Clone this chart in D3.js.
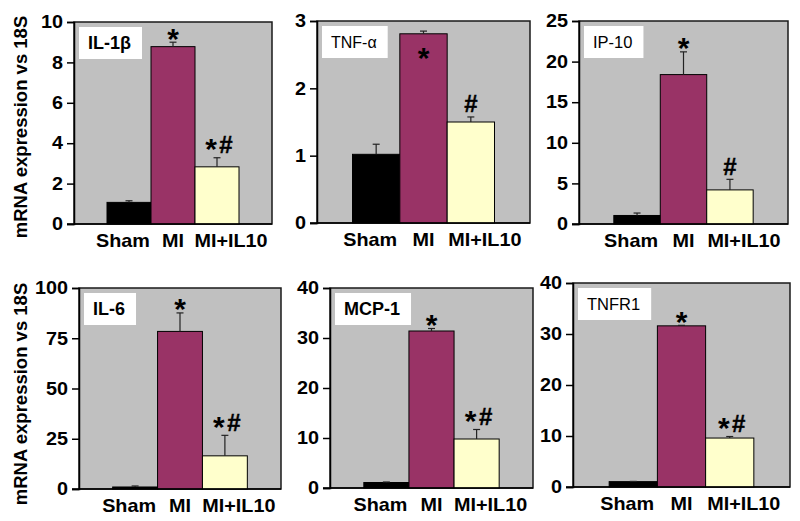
<!DOCTYPE html>
<html>
<head>
<meta charset="utf-8">
<script src="https://cdn.jsdelivr.net/npm/d3@7/dist/d3.min.js"></script>
<style>
  html, body { margin: 0; padding: 0; background: #ffffff; }
  svg { display: block; font-family: "Liberation Sans", Arial, sans-serif; }
</style>
</head>
<body>
<svg id="chart" width="800" height="521"></svg>
<script>
// ---------- data ----------
const groups = ["Sham", "MI", "MI+IL10"];
const genes = ["IL-1β", "TNF-α", "IP-10", "IL-6", "MCP-1", "TNFR1"];

const il1bMean  = [1.07, 8.78, 2.83];
const il1bSem   = [0.08, 0.22, 0.45];
const tnfMean   = [1.02, 2.81, 1.50];
const tnfSem    = [0.15, 0.04, 0.075];
const ip10Mean  = [1.05, 18.4, 4.2];
const ip10Sem   = [0.3, 2.8, 1.3];
const il6Mean   = [1.0, 78.4, 16.5];
const il6Sem    = [0.5, 9.2, 10.2];
const mcp1Mean  = [1.1, 31.4, 9.8];
const mcp1Sem   = [0.1, 0.5, 1.9];
const tnfr1Mean = [1.05, 31.6, 9.6];
const tnfr1Sem  = [0.05, 0.1, 0.3];

const il1bSig  = ["", "*", "*#"];
const tnfSig   = ["", "*", "#"];
const ip10Sig  = ["", "*", "#"];
const il6Sig   = ["", "*", "*#"];
const mcp1Sig  = ["", "*", "*#"];
const tnfr1Sig = ["", "*", "*#"];

const yMaxes = [10, 3, 25, 100, 40, 40];
const yTicks = [
  [0, 2, 4, 6, 8, 10],
  [0, 1, 2, 3],
  [0, 5, 10, 15, 20, 25],
  [0, 25, 50, 75, 100],
  [0, 10, 20, 30, 40],
  [0, 10, 20, 30, 40]
];
const yLabel = "mRNA expression vs 18S";

// ---------- layout / style ----------
const frames = [
  { x0: 74,  x1: 272, y0: 22,  y1: 224 },
  { x0: 317, x1: 530, y0: 21,  y1: 223 },
  { x0: 579, x1: 788, y0: 21,  y1: 224 },
  { x0: 79,  x1: 281, y0: 288, y1: 489 },
  { x0: 330, x1: 533, y0: 288, y1: 488 },
  { x0: 573, x1: 790, y0: 283, y1: 487 }
];
const labelBold = [true, false, false, true, true, false];
const labelSize = [18, 16, 16.5, 18, 18, 16.5];
const insideStar = [false, true, false, false, false, false];
const barColors = ["#000000", "#993366", "#ffffcc"];
const xLabelShift = [-6, 0, 14];
const STRETCH = 1.1;

const means = [il1bMean, tnfMean, ip10Mean, il6Mean, mcp1Mean, tnfr1Mean];
const sems  = [il1bSem, tnfSem, ip10Sem, il6Sem, mcp1Sem, tnfr1Sem];
const sigs  = [il1bSig, tnfSig, ip10Sig, il6Sig, mcp1Sig, tnfr1Sig];

const svg = d3.select("#chart");

function star(g, x, cy) {
  g.append("text").attr("x", x).attr("y", cy + 17.4)
    .attr("text-anchor", "middle").attr("font-size", 30).attr("font-weight", "bold")
    .attr("fill", "#000").text("*");
}
function hash(g, x, cy) {
  g.append("text").attr("x", x).attr("y", cy + 8.5)
    .attr("text-anchor", "middle").attr("font-size", 24).attr("font-weight", "bold")
    .attr("fill", "#000").attr("stroke", "#000").attr("stroke-width", 0.4)
    .text("#");
}

genes.forEach((gene, i) => {
  const f = frames[i];
  const g = svg.append("g");

  const x = d3.scaleBand().domain(groups).range([f.x0, f.x1])
    .paddingInner(0).paddingOuter(0.75);
  const y = d3.scaleLinear().domain([0, yMaxes[i]]).range([f.y1, f.y0]);

  // plot background
  g.append("rect")
    .attr("x", f.x0).attr("y", f.y0)
    .attr("width", f.x1 - f.x0).attr("height", f.y1 - f.y0)
    .attr("fill", "#c0c0c0").attr("stroke", "#1a1a1a").attr("stroke-width", 1.5);

  // gene label box
  const boxG = g.append("g");
  const box = boxG.append("rect").attr("fill", "#ffffff");
  const lbl = boxG.append("text")
    .attr("x", f.x0 + 14).attr("y", f.y0 + 27)
    .attr("font-size", labelSize[i])
    .attr("font-weight", labelBold[i] ? "bold" : "normal")
    .attr("fill", "#000")
    .text(gene);
  const tw = lbl.node().getComputedTextLength();
  box.attr("x", f.x0 + 5).attr("y", f.y0 + 5)
    .attr("width", tw + 20).attr("height", 32);

  const data = groups.map((grp, j) => ({ grp, v: means[i][j], e: sems[i][j], s: sigs[i][j], c: barColors[j], j }));

  // bars
  g.selectAll("rect.bar").data(data).enter().append("rect")
    .attr("class", "bar")
    .attr("x", d => x(d.grp))
    .attr("y", d => y(d.v))
    .attr("width", x.bandwidth())
    .attr("height", d => y(0) - y(d.v))
    .attr("fill", d => d.c)
    .attr("stroke", "#000").attr("stroke-width", 1);

  // error bars (upper only)
  const cx = d => x(d.grp) + x.bandwidth() / 2;
  g.selectAll("line.err").data(data).enter().append("line")
    .attr("x1", cx).attr("x2", cx)
    .attr("y1", d => y(d.v)).attr("y2", d => y(d.v + d.e))
    .attr("stroke", "#222").attr("stroke-width", 1.2);
  g.selectAll("line.cap").data(data).enter().append("line")
    .attr("x1", d => cx(d) - 3.5).attr("x2", d => cx(d) + 3.5)
    .attr("y1", d => y(d.v + d.e)).attr("y2", d => y(d.v + d.e))
    .attr("stroke", "#222").attr("stroke-width", 1.2);

  // significance marks
  data.filter(d => d.s).forEach(d => {
    const capY = y(d.v + d.e);
    const c = cx(d);
    if (d.s === "*") {
      if (insideStar[i]) star(g, c, y(d.v) + 17);
      else star(g, c, capY - 11);
    } else if (d.s === "#") {
      hash(g, c, capY - 13);
    } else {
      star(g, c - 6, capY - 16);
      hash(g, c + 9, capY - 13);
    }
  });

  // y axis
  const axis = d3.axisLeft(y).tickValues(yTicks[i]).tickSize(7).tickPadding(3).tickFormat(d3.format("d"));
  const ag = g.append("g").attr("transform", `translate(${f.x0},0)`).call(axis);
  ag.select(".domain").attr("stroke", "#000").attr("stroke-width", 1.5);
  ag.selectAll(".tick line").attr("stroke", "#000").attr("stroke-width", 1.5);
  ag.selectAll(".tick text")
    .attr("font-family", "'Liberation Sans', Arial, sans-serif")
    .attr("font-size", 18).attr("font-weight", "bold").attr("fill", "#000")
    .attr("transform", `scale(${STRETCH},1)`);

  // bottom line
  g.append("line")
    .attr("x1", f.x0 - 7).attr("x2", f.x1)
    .attr("y1", f.y1).attr("y2", f.y1)
    .attr("stroke", "#000").attr("stroke-width", 1.5);

  // x labels
  g.selectAll("text.xl").data(data).enter().append("text")
    .attr("transform", d => `translate(${cx(d) + xLabelShift[d.j]},${f.y1 + 23}) scale(${STRETCH},1)`)
    .attr("text-anchor", "middle")
    .attr("font-size", 18).attr("font-weight", "bold").attr("fill", "#000")
    .text(d => d.grp);
});

// y axis titles (left column)
[127, 394].forEach(cy => {
  svg.append("text")
    .attr("transform", `translate(27,${cy}) rotate(-90)`)
    .attr("text-anchor", "middle")
    .attr("font-size", 18.5).attr("font-weight", "bold").attr("fill", "#000")
    .text(yLabel);
});
</script>
</body>
</html>
